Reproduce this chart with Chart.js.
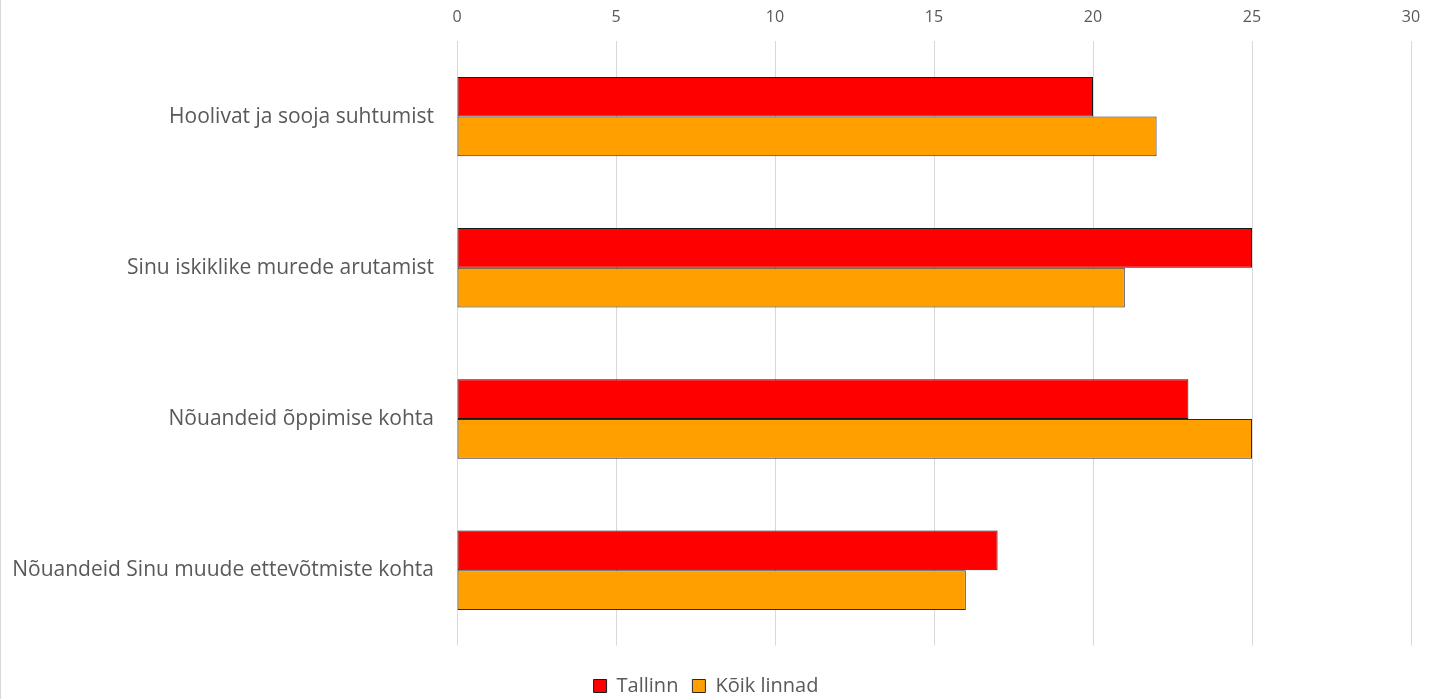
<!DOCTYPE html>
<html>
<head>
<meta charset="utf-8">
<script src="https://cdn.jsdelivr.net/npm/chart.js@4/dist/chart.umd.min.js"></script>
<style>
  body { margin: 0; background: #fff; }
  #wrap { width: 1430px; height: 699px; border-left: 1px solid #d9d9d9; }
</style>
</head>
<body>
<div id="wrap"><canvas id="grafico" width="1430" height="699"></canvas></div>
<script>
// categorias y valores
var categorias = ["Hoolivat ja sooja suhtumist", "Sinu iskiklike murede arutamist", "Nõuandeid õppimise kohta", "Nõuandeid Sinu muude ettevõtmiste kohta"];
var tallinn = [20, 25, 23, 17];
var koikLinnad = [22, 21, 25, 16];
var ejeMin = 0, ejeMax = 30, ejePaso = 5;

var gris = "#595959";
var fuente = "'Open Sans'";

var ctx = document.getElementById("grafico");
var grafico = new Chart(ctx, {
	type: 'bar',
	data: {
		labels: categorias,
		datasets: [{
			label: 'Tallinn',
			data: tallinn,
			backgroundColor: '#ff0000',
			borderColor: '#1a1a1a',
			borderWidth: 1,
			borderSkipped: false
		}, {
			label: 'Kõik linnad',
			data: koikLinnad,
			backgroundColor: '#ffa000',
			borderColor: '#2a2a2a',
			borderWidth: 1,
			borderSkipped: false
		}]
	},
	options: {
		indexAxis: 'y',
		responsive: false,
		animation: false,
		datasets: { bar: { barPercentage: 1, categoryPercentage: 0.525 } },
		layout: { padding: { top: 0, right: 20, bottom: -7, left: 0 } },
		scales: {
			x: {
				position: 'top',
				min: ejeMin,
				max: ejeMax,
				ticks: { stepSize: ejePaso, color: gris, padding: 14, font: { family: fuente, size: 16 } },
				grid: { color: '#d9d9d9', drawTicks: false },
				border: { display: false },
				afterFit: function(eje){
					eje.height = 41;
					eje.paddingLeft = 0;
					eje.paddingRight = 0;
				}
			},
			y: {
				ticks: { color: gris, padding: 15, font: { family: fuente, size: 21 } },
				grid: { display: false },
				border: { display: false },
				afterFit: function(eje){ eje.width = 456; }
			}
		},
		plugins: {
			legend: {
				position: 'bottom',
				title: { display: true, text: ' ', padding: { top: 15, bottom: 0 }, font: { size: 1 } },
				labels: {
					color: gris,
					boxWidth: 13,
					boxHeight: 13,
					padding: 14,
					font: { family: fuente, size: 20 }
				}
			},
			tooltip: { enabled: false }
		}
	}
});
</script>
</body>
</html>
